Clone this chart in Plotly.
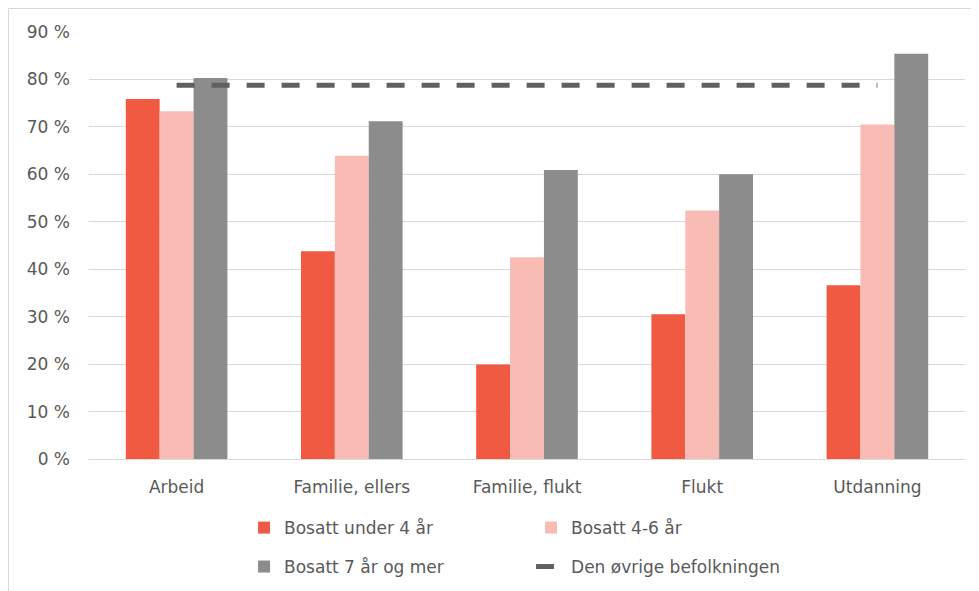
import plotly.graph_objects as go

categories = ["Arbeid", "Familie, ellers", "Familie, flukt", "Flukt", "Utdanning"]
under_4 = [75.9, 43.8, 19.9, 30.5, 36.6]
years_4_6 = [73.3, 63.9, 42.5, 52.4, 70.5]
years_7_plus = [80.3, 71.2, 60.9, 60.0, 85.4]
rest_population = [78.8, 78.8, 78.8, 78.8, 78.8]
y_ticks = [0, 10, 20, 30, 40, 50, 60, 70, 80, 90]
y_tick_labels = ["0 %", "10 %", "20 %", "30 %", "40 %", "50 %", "60 %", "70 %", "80 %", "90 %"]

FONT = "DejaVu Sans"
TXT = "#595959"

fig = go.Figure()
fig.add_trace(go.Bar(x=categories, y=under_4, name="Bosatt under 4 år", legend="legend",
                     marker=dict(color="#F15A42", line=dict(width=0))))
fig.add_trace(go.Bar(x=categories, y=years_4_6, name="Bosatt 4-6 år", legend="legend",
                     marker=dict(color="#F9BCB5", line=dict(width=0))))
fig.add_trace(go.Bar(x=categories, y=years_7_plus, name="Bosatt 7 år og mer", legend="legend2",
                     marker=dict(color="#8C8C8C", line=dict(width=0))))
fig.add_trace(go.Scatter(x=categories, y=rest_population, name="Den øvrige befolkningen",
                         legend="legend2",
                         mode="lines", line=dict(color="#606060", width=5, dash="18px,17px")))

legend_common = dict(orientation="h", xanchor="left", yanchor="middle", yref="container",
                     entrywidth=242, entrywidthmode="pixels",
                     font=dict(family=FONT, size=17, color=TXT), traceorder="normal",
                     bgcolor="rgba(0,0,0,0)")

fig.update_layout(
    width=971, height=583,
    margin=dict(l=81, r=14, t=24, b=132),
    paper_bgcolor="white", plot_bgcolor="white",
    font=dict(family=FONT, size=17, color=TXT),
    barmode="group", bargap=0.42, bargroupgap=0,
    showlegend=True,
    legend=dict(x=0.177, y=0.108, **legend_common),
    legend2=dict(x=0.177, y=0.0412, **legend_common),
    xaxis=dict(showgrid=False, showline=False, ticks="", ticklabelstandoff=16,
               tickfont=dict(size=17, color=TXT)),
    yaxis=dict(range=[0, 90], tickmode="array", tickvals=y_ticks, ticktext=y_tick_labels,
               showgrid=True, gridcolor="#d9d9d9", gridwidth=1,
               zeroline=True, zerolinecolor="#d9d9d9", zerolinewidth=1,
               showline=False, ticks="", ticklabelstandoff=18,
               tickfont=dict(size=17, color=TXT)),
    shapes=[dict(type="rect", xref="paper", yref="paper",
                 x0=-0.0919, x1=1.2, y0=-0.5, y1=1.055,
                 line=dict(color="#d9d9d9", width=1), fillcolor="rgba(0,0,0,0)", layer="below")],
)

fig.write_html("out.html")
